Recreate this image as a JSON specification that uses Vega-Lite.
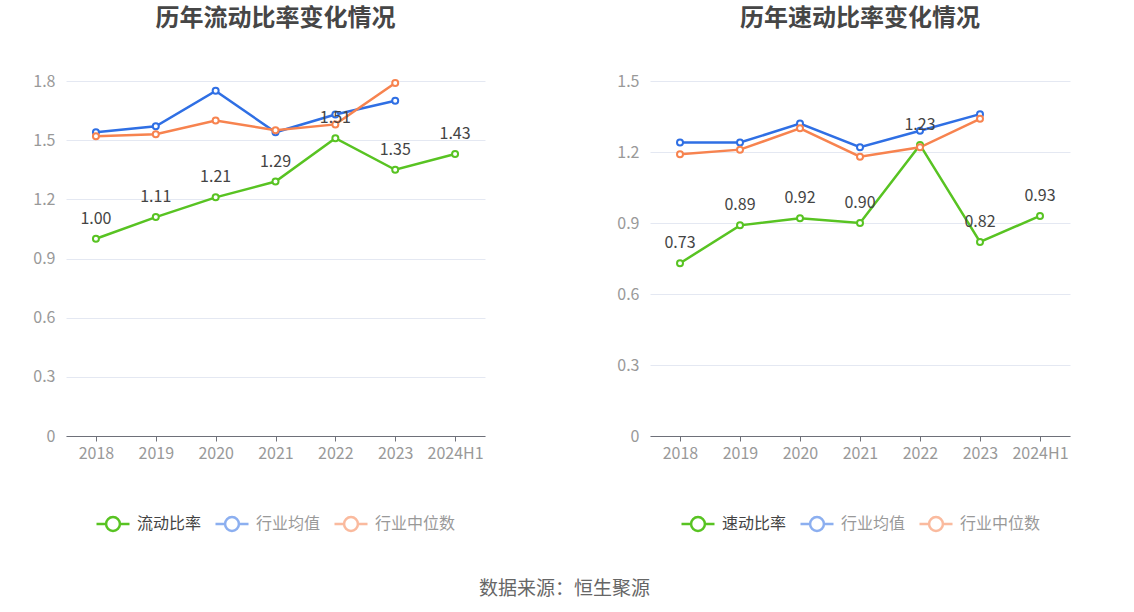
{
  "$schema": "https://vega.github.io/schema/vega-lite/v6.json",
  "background": "white",
  "padding": {"left": 32, "top": 7, "right": 20, "bottom": 4},
  "spacing": 131,
  "title": {
    "text": "数据来源：恒生聚源",
    "orient": "bottom",
    "anchor": "start",
    "frame": "group",
    "dx": 413,
    "fontSize": 19,
    "fontWeight": "normal",
    "color": "#666666",
    "font": "Noto Sans CJK SC",
    "offset": 44
  },
  "datasets": {
    "left": [
      {"year": "2018", "series": "流动比率", "value": 1.00},
      {"year": "2019", "series": "流动比率", "value": 1.11},
      {"year": "2020", "series": "流动比率", "value": 1.21},
      {"year": "2021", "series": "流动比率", "value": 1.29},
      {"year": "2022", "series": "流动比率", "value": 1.51},
      {"year": "2023", "series": "流动比率", "value": 1.35},
      {"year": "2024H1", "series": "流动比率", "value": 1.43},
      {"year": "2018", "series": "行业均值", "value": 1.54},
      {"year": "2019", "series": "行业均值", "value": 1.57},
      {"year": "2020", "series": "行业均值", "value": 1.75},
      {"year": "2021", "series": "行业均值", "value": 1.54},
      {"year": "2022", "series": "行业均值", "value": 1.63},
      {"year": "2023", "series": "行业均值", "value": 1.70},
      {"year": "2018", "series": "行业中位数", "value": 1.52},
      {"year": "2019", "series": "行业中位数", "value": 1.53},
      {"year": "2020", "series": "行业中位数", "value": 1.60},
      {"year": "2021", "series": "行业中位数", "value": 1.55},
      {"year": "2022", "series": "行业中位数", "value": 1.58},
      {"year": "2023", "series": "行业中位数", "value": 1.79}
    ],
    "right": [
      {"year": "2018", "series": "速动比率", "value": 0.73},
      {"year": "2019", "series": "速动比率", "value": 0.89},
      {"year": "2020", "series": "速动比率", "value": 0.92},
      {"year": "2021", "series": "速动比率", "value": 0.90},
      {"year": "2022", "series": "速动比率", "value": 1.23},
      {"year": "2023", "series": "速动比率", "value": 0.82},
      {"year": "2024H1", "series": "速动比率", "value": 0.93},
      {"year": "2018", "series": "行业均值", "value": 1.24},
      {"year": "2019", "series": "行业均值", "value": 1.24},
      {"year": "2020", "series": "行业均值", "value": 1.32},
      {"year": "2021", "series": "行业均值", "value": 1.22},
      {"year": "2022", "series": "行业均值", "value": 1.29},
      {"year": "2023", "series": "行业均值", "value": 1.36},
      {"year": "2018", "series": "行业中位数", "value": 1.19},
      {"year": "2019", "series": "行业中位数", "value": 1.21},
      {"year": "2020", "series": "行业中位数", "value": 1.30},
      {"year": "2021", "series": "行业中位数", "value": 1.18},
      {"year": "2022", "series": "行业中位数", "value": 1.22},
      {"year": "2023", "series": "行业中位数", "value": 1.34}
    ]
  },
  "resolve": {"scale": {"color": "independent", "y": "independent"}, "legend": {"color": "independent"}},
  "hconcat": [
    {
      "width": 419,
      "height": 355,
      "title": {"text": "历年流动比率变化情况", "frame": "group", "anchor": "middle", "offset": 42},
      "data": {"name": "left"},
      "encoding": {
        "x": {"field": "year", "type": "ordinal", "sort": null, "scale": {"type": "point", "padding": 0.5}, "axis": {"title": null}},
        "y": {"field": "value", "type": "quantitative", "scale": {"domain": [0, 1.8], "nice": false}, "axis": {"title": null, "values": [0, 0.3, 0.6, 0.9, 1.2, 1.5, 1.8], "format": ".1~f"}},
        "color": {
          "field": "series",
          "type": "nominal",
          "scale": {"domain": ["流动比率", "行业均值", "行业中位数"], "range": ["#58c322", "#2f6fe4", "#f7834f"]},
          "legend": {
            "title": null,
            "orient": "none",
            "direction": "horizontal",
            "legendX": 29,
            "legendY": 425,
            "symbolType": "M-1,0L-0.42,0M0.42,0L1,0M-0.42,0A0.42,0.42,0,1,1,0.42,0A0.42,0.42,0,1,1,-0.42,0",
            "symbolSize": 1089,
            "symbolStrokeWidth": 2.5,
            "symbolFillColor": "white",
            "labelFontSize": 16,
            "labelOffset": 6,
            "columnPadding": 8,
            "encode": {
              "symbols": {"update": {"opacity": {"signal": "datum.value === '流动比率' ? 1 : 0.55"}}},
              "labels": {"update": {"fill": {"signal": "datum.value === '流动比率' ? '#444444' : '#999999'"}}}
            }
          }
        }
      },
      "layer": [
        {"mark": {"type": "line", "strokeWidth": 2.5}},
        {"mark": {"type": "point", "filled": false, "fill": "white", "fillOpacity": 1, "opacity": 1, "size": 36, "strokeWidth": 2}},
        {
          "transform": [{"filter": "datum.series === '流动比率'"}],
          "mark": {"type": "text", "dy": -20, "fontSize": 16, "color": "#444444"},
          "encoding": {"text": {"field": "value", "type": "quantitative", "format": ".2f"}, "color": {"value": "#444444"}}
        }
      ]
    },
    {
      "width": 420,
      "height": 355,
      "title": {"text": "历年速动比率变化情况", "frame": "group", "anchor": "middle", "offset": 42},
      "data": {"name": "right"},
      "encoding": {
        "x": {"field": "year", "type": "ordinal", "sort": null, "scale": {"type": "point", "padding": 0.5}, "axis": {"title": null}},
        "y": {"field": "value", "type": "quantitative", "scale": {"domain": [0, 1.5], "nice": false}, "axis": {"title": null, "values": [0, 0.3, 0.6, 0.9, 1.2, 1.5], "format": ".1~f"}},
        "color": {
          "field": "series",
          "type": "nominal",
          "scale": {"domain": ["速动比率", "行业均值", "行业中位数"], "range": ["#58c322", "#2f6fe4", "#f7834f"]},
          "legend": {
            "title": null,
            "orient": "none",
            "direction": "horizontal",
            "legendX": 30,
            "legendY": 425,
            "symbolType": "M-1,0L-0.42,0M0.42,0L1,0M-0.42,0A0.42,0.42,0,1,1,0.42,0A0.42,0.42,0,1,1,-0.42,0",
            "symbolSize": 1089,
            "symbolStrokeWidth": 2.5,
            "symbolFillColor": "white",
            "labelFontSize": 16,
            "labelOffset": 6,
            "columnPadding": 8,
            "encode": {
              "symbols": {"update": {"opacity": {"signal": "datum.value === '速动比率' ? 1 : 0.55"}}},
              "labels": {"update": {"fill": {"signal": "datum.value === '速动比率' ? '#444444' : '#999999'"}}}
            }
          }
        }
      },
      "layer": [
        {"mark": {"type": "line", "strokeWidth": 2.5}},
        {"mark": {"type": "point", "filled": false, "fill": "white", "fillOpacity": 1, "opacity": 1, "size": 36, "strokeWidth": 2}},
        {
          "transform": [{"filter": "datum.series === '速动比率'"}],
          "mark": {"type": "text", "dy": -20, "fontSize": 16, "color": "#444444"},
          "encoding": {"text": {"field": "value", "type": "quantitative", "format": ".2f"}, "color": {"value": "#444444"}}
        }
      ]
    }
  ],
  "config": {
    "font": "Noto Sans CJK SC",
    "view": {"stroke": null},
    "title": {"fontSize": 24, "fontWeight": "bold", "color": "#464646"},
    "axis": {
      "labelFontSize": 16,
      "labelColor": "#999999",
      "gridColor": "#e4e8f2",
      "domainColor": "#6e7079",
      "tickColor": "#6e7079"
    },
    "axisX": {"grid": false, "tickSize": 5, "labelPadding": 4, "labelAngle": 0},
    "axisY": {"domain": false, "ticks": false, "labelPadding": 11}
  }
}
